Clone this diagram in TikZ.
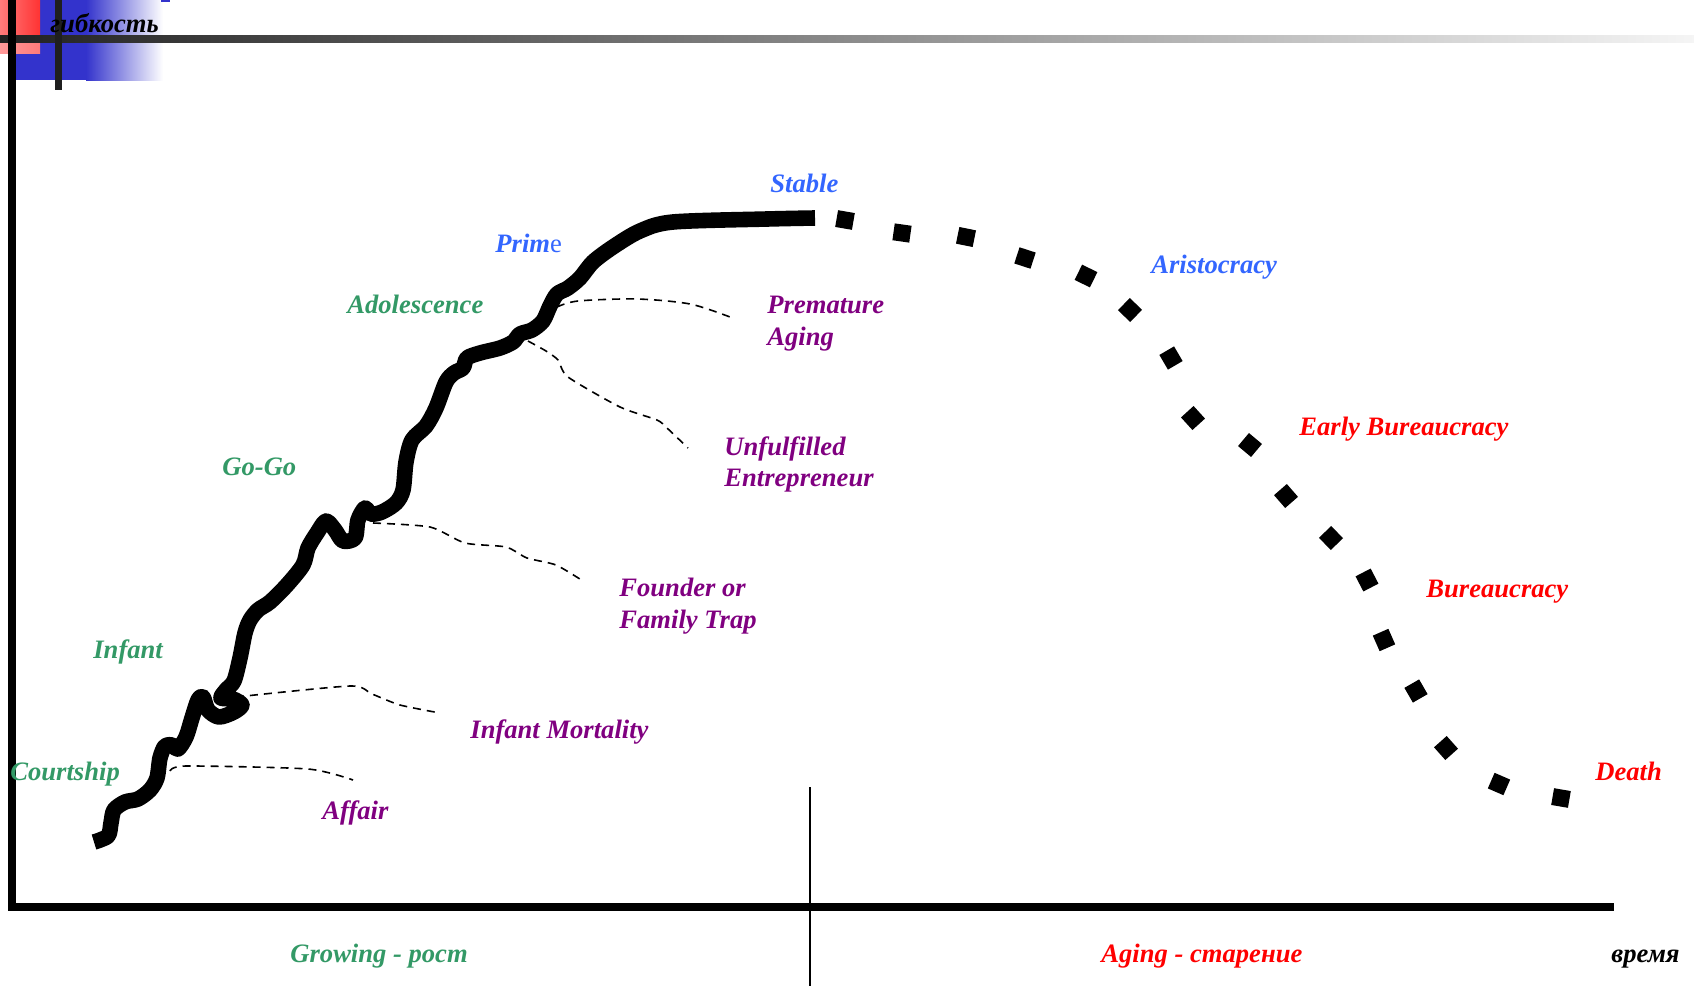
\documentclass[tikz,border=0pt]{standalone}
\usepackage{fontspec}
\setmainfont{Liberation Serif}
\usetikzlibrary{calc}
\definecolor{stagegreen}{HTML}{339966}
\definecolor{stageblue}{HTML}{3366FF}
\definecolor{trapviolet}{HTML}{800080}
\definecolor{agered}{HTML}{FF0000}
\definecolor{deckblue}{HTML}{3333CC}
\definecolor{deckred}{HTML}{FF3333}

\begin{document}
\begin{tikzpicture}[x=0.5pt,y=-0.5pt,
  lbl/.style={font=\fontsize{13.3}{16}\selectfont\bfseries\itshape, inner sep=0pt, anchor=base west},
  lifeline/.style={line width=7.8pt, line join=round, line cap=butt},
  dotseg/.style={line width=8.5pt, line cap=butt},
  trapline/.style={line width=0.8pt, dash pattern=on 4pt off 3pt},
  axisline/.style={line width=4pt}]
\useasboundingbox (0,0) rectangle (1694,986);

% corner decoration
\fill[deckblue] (16,0) rectangle (87,80);
\shade[left color=deckblue, right color=white] (86,0) rectangle (163,80);
\shade[left color=deckred!65, right color=deckred] (0,0) rectangle (40,36);
\shade[left color=deckred!50, right color=deckred!65] (0,41) rectangle (40,53);
\fill[deckblue] (161,0) rectangle (170,2);
\shade[left color=black!87, right color=black!4] (0,35) rectangle (1694,42);
\fill[black!88] (55,0) rectangle (62,90);

% axes and the growing / aging divider
\draw[axisline] (12,0) -- (12,911);
\draw[axisline] (8,907) -- (1614,907);
\draw[line width=0.8pt] (810,787) -- (810,986);

% growth part of the life cycle
\draw[lifeline] plot[smooth, tension=0.5] coordinates {
  (94,842) (108,836) (111,823) (114,810) (125,802) (138,799) (150,790)
  (157,778) (160,758) (165,746) (172,745) (178,749) (186,737) (192,718)
  (198,700) (203,697) (208,710) (219,717) (234,712) (242,705) (233,699)
  (221,698) (226,690) (234,681) (240,658) (245,633) (250,620) (258,610)
  (270,602) (287,585) (303,565) (308,548) (317,533) (326,521) (335,530)
  (343,541) (355,538) (358,520) (365,508) (371,514) (382,512) (396,503)
  (403,490) (406,462) (412,440) (426,426) (436,408) (446,382) (454,373)
  (463,368) (467,358) (480,353) (500,348) (513,342) (520,334) (532,330)
  (543,321) (550,306) (557,294) (568,288) (580,278) (593,262) (613,247)
  (640,231) (673,222) (767,219) (815,218)};

% aging part: square dots along the decline
\foreach \i/\x/\y in {0/815/218, 1/845/220, 2/902/233, 3/966/237, 4/1025/258,
  5/1086/276, 6/1130/310, 7/1171/358, 8/1193/418, 9/1250/445, 10/1286/496,
  11/1331/538, 12/1367/580, 13/1384/640, 14/1416/691, 15/1446/748,
  16/1499/784, 17/1561/798, 18/1622/805}
  \coordinate (d\i) at (\x,\y);
\foreach \p/\c/\n in {0/1/2, 1/2/3, 2/3/4, 3/4/5, 4/5/6, 5/6/7, 6/7/8, 7/8/9,
  8/9/10, 9/10/11, 10/11/12, 11/12/13, 12/13/14, 13/14/15, 14/15/16,
  15/16/17, 16/17/18} {
  \coordinate (t) at ($(d\c)+(d\n)-(d\p)$);
  \draw[dotseg] ($(d\c)!4.25pt!180:(t)$) -- ($(d\c)!4.25pt!(t)$);
}

% traps branching off the curve
\coordinate (af0) at (170,771);  \coordinate (af1) at (353,780);
\coordinate (im0) at (236,697);  \coordinate (im1) at (440,713);
\coordinate (ft0) at (373,523);  \coordinate (ft1) at (583,581);
\coordinate (ue0) at (528,341);  \coordinate (ue1) at (688,448);
\coordinate (pa0) at (557,307);  \coordinate (pa1) at (730,317);
\draw[trapline] plot[smooth, tension=0.4] coordinates {(af0) (186,766) (308,769) (af1)};
\draw[trapline] plot[smooth, tension=0.4] coordinates {(im0) (350,686) (372,694) (400,705) (im1)};
\draw[trapline] plot[smooth, tension=0.4] coordinates {(ft0) (430,527) (465,543) (506,547) (527,558) (556,565) (ft1)};
\draw[trapline] plot[smooth, tension=0.4] coordinates {(ue0) (546,351) (558,360) (568,377) (620,407) (657,420) (667,428) (ue1)};
\draw[trapline] plot[smooth, tension=0.5] coordinates {(pa0) (578,301) (637,299) (690,304) (pa1)};

% stage labels
\node[lbl, stageblue] (stable) at (770,192) {Stable};
\node[lbl, stageblue] (prime) at (495,252) {Prim{\mdseries\upshape e}};
\node[lbl, stagegreen] (adol) at (347,313) {Adolescence};
\node[lbl, stagegreen] (gogo) at (222,475) {Go-Go};
\node[lbl, stagegreen] (infant) at (93,658) {Infant};
\node[lbl, stagegreen] (court) at (10,780) {Courtship};
\node[lbl, stageblue] (aristo) at (1151,273) {Aristocracy};
\node[lbl, agered] (earlyb) at (1299,435) {Early Bureaucracy};
\node[lbl, agered] (bureau) at (1426,597) {Bureaucracy};
\node[lbl, agered] (death) at (1595,780) {Death};

% trap labels
\node[lbl, trapviolet] (prem1) at (767,313) {Premature};
\node[lbl, trapviolet] (prem2) at (767,345) {Aging};
\node[lbl, trapviolet] (unf1) at (724,455) {Unfulfilled};
\node[lbl, trapviolet] (unf2) at (724,486) {Entrepreneur};
\node[lbl, trapviolet] (fnd1) at (619,596) {Founder or};
\node[lbl, trapviolet] (fnd2) at (619,628) {Family Trap};
\node[lbl, trapviolet] (mort) at (470,738) {Infant Mortality};
\node[lbl, trapviolet] (affair) at (322,819) {Affair};

% axis captions
\node[lbl, stagegreen] (grow) at (290,962) {Growing - рост};
\node[lbl, agered] (aging) at (1101,962) {Aging - старение};
\node[lbl] (timecap) at (1611,962) {время};
\node[lbl] (flex) at (50,32) {гибкость};
\end{tikzpicture}
\end{document}
